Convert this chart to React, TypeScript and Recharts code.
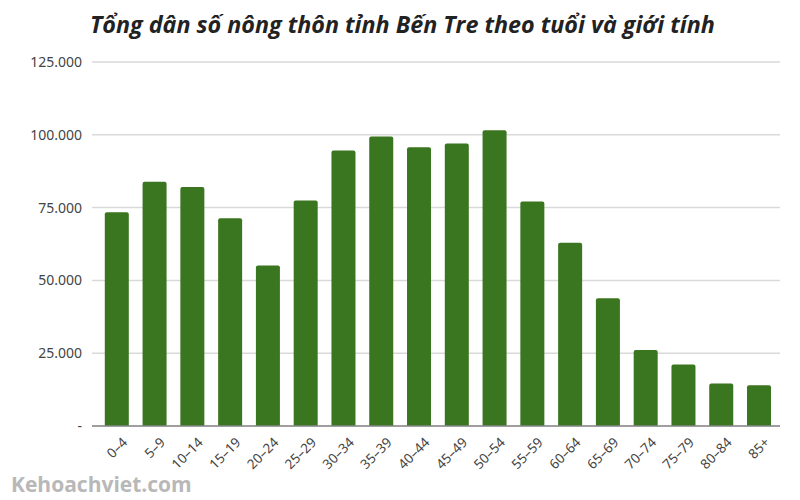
import React from 'react';
import { BarChart, Bar, XAxis, YAxis, CartesianGrid } from 'recharts';

const ageGroups = ['0–4', '5–9', '10–14', '15–19', '20–24', '25–29', '30–34', '35–39', '40–44', '45–49', '50–54', '55–59', '60–64', '65–69', '70–74', '75–79', '80–84', '85+'];
const population = [73400, 83900, 82100, 71300, 55100, 77400, 94600, 99400, 95700, 97000, 101600, 77100, 62900, 43900, 26100, 21100, 14600, 14000];
const yTicks = [0, 25000, 50000, 75000, 100000, 125000];
const titleText = 'Tổng dân số nông thôn tỉnh Bến Tre theo tuổi và giới tính';
const watermark = 'Kehoachviet.com';

const data = ageGroups.map((g, i) => ({ age: g, value: population[i] }));

const fmt = (v: number) => (v === 0 ? '-' : v.toLocaleString('de-DE'));

const XTick = (props: any) => {
  const { x, y, payload } = props;
  return (
    <g transform={`translate(${x + 5},${y + 3})`}>
      <text
        x={0}
        y={0}
        dy={9}
        textAnchor="end"
        transform="rotate(-45)"
        fill="#444"
        fontSize={13.5}
        fontFamily="'Noto Sans', sans-serif"
      >
        {payload.value}
      </text>
    </g>
  );
};

export default function App() {
  return (
    <div style={{ position: 'absolute', left: 0, top: 0, width: 800, height: 500, background: '#fff' }}>
      <div
        style={{
          position: 'absolute',
          left: 90,
          top: 9,
          fontFamily: "'Open Sans', sans-serif",
          fontWeight: 700,
          fontStyle: 'italic',
          fontSize: 23.3,
          color: '#222',
          whiteSpace: 'nowrap',
          lineHeight: '30px',
        }}
      >
        {titleText}
      </div>
      <BarChart
        width={800}
        height={500}
        data={data}
        margin={{ top: 62, right: 20, bottom: 14, left: 2 }}
        barCategoryGap="18%"
      >
        <CartesianGrid vertical={false} stroke="#d9d9d9" strokeWidth={1.5} />
        <XAxis
          dataKey="age"
          height={60}
          interval={0}
          tickLine={false}
          axisLine={{ stroke: '#888', strokeWidth: 1.5 }}
          padding={{ left: 6, right: 2 }}
          tick={<XTick />}
        />
        <YAxis
          width={90}
          domain={[0, 125000]}
          ticks={yTicks}
          tickFormatter={fmt}
          axisLine={false}
          tickLine={false}
          tickMargin={4}
          tick={{ fill: '#444', fontSize: 14, fontFamily: "'Noto Sans', sans-serif" }}
        />
        <Bar dataKey="value" fill="#3a751f" radius={[2, 2, 0, 0]} isAnimationActive={false} />
      </BarChart>
      <div
        style={{
          position: 'absolute',
          left: 11,
          top: 470,
          fontFamily: "'Open Sans', sans-serif",
          fontWeight: 700,
          fontSize: 21,
          color: '#b8b8b8',
          whiteSpace: 'nowrap',
          lineHeight: '28px',
        }}
      >
        {watermark}
      </div>
    </div>
  );
}
